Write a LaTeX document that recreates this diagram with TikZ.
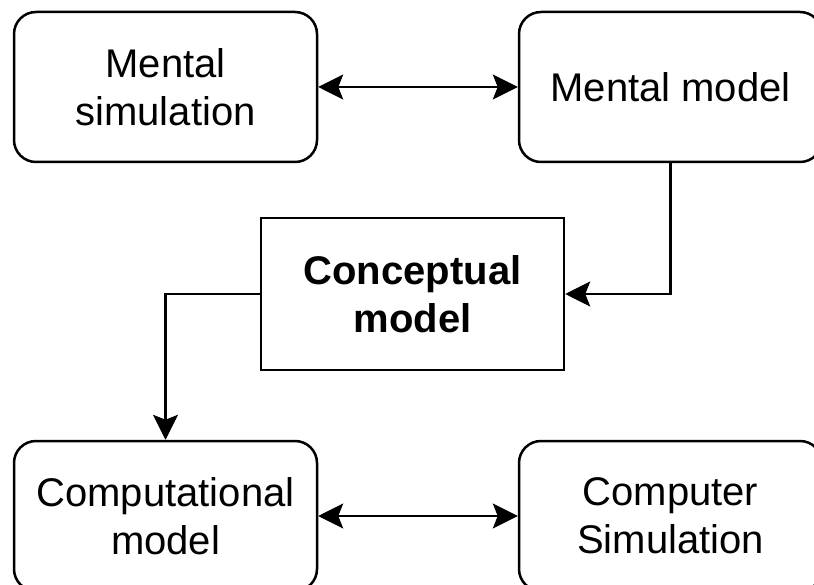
\documentclass[tikz,border=0pt]{standalone}
\usepackage{fontspec}
\setmainfont{Liberation Sans}
\usetikzlibrary{arrows.meta}
\begin{document}
\begin{tikzpicture}[x=1pt,y=-1pt,
  box/.style={draw=black, line width=2.5pt, fill=white, minimum width=303pt, minimum height=150pt,
    inner sep=0pt, align=center, font=\fontsize{40}{48}\selectfont},
  rbox/.style={box, rounded corners=22pt},
  conn/.style={line width=2.5pt, -{Stealth[length=25pt,width=25pt,inset=5pt,fill=black,line width=1pt]}},
  bconn/.style={line width=2.5pt, {Stealth[length=25pt,width=25pt,inset=5pt,fill=black,line width=1pt]}-{Stealth[length=25pt,width=25pt,inset=5pt,fill=black,line width=1pt]}}
]
\useasboundingbox (0,0) rectangle (814,585);
\node[rbox] (ms) at (165.5,87) {Mental\\simulation};
\node[rbox] (mm) at (670.5,87) {Mental model};
\node[box, minimum height=152pt, font=\fontsize{40}{48}\selectfont\bfseries] (cm) at (412.5,294) {Conceptual\\model};
\node[rbox] (comp) at (165.5,516) {Computational\\model};
\node[rbox] (cs) at (670.5,516) {Computer\\Simulation};
\draw[bconn] (ms) -- (mm);
\draw[bconn] (comp) -- (cs);
\draw[conn] (mm.south) |- (cm.east);
\draw[conn] (cm.west) -| (comp.north);
\end{tikzpicture}
\end{document}
